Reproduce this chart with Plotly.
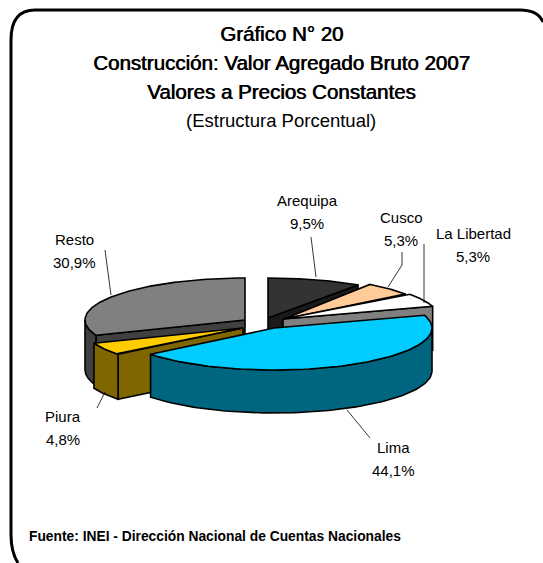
import numpy as np
import plotly.graph_objects as go

categories = ["Arequipa", "Cusco", "La Libertad", "Lima", "Piura", "Resto"]
values = [9.5, 5.3, 5.3, 44.1, 4.8, 30.9]
value_labels = ["9,5%", "5,3%", "5,3%", "44,1%", "4,8%", "30,9%"]
title_lines = ["Gráfico N° 20", "Construcción: Valor Agregado Bruto 2007", "Valores a Precios Constantes"]
subtitle = "(Estructura Porcentual)"
source = "Fuente: INEI - Dirección Nacional de Cuentas Nacionales"

W, H = 543, 563
top_colors = ["#333333", "#ffcc99", "#ffffff", "#00ccff", "#ffcc00", "#808080"]
side_colors = ["#1a1a1a", "#80664d", "#808080", "#006680", "#806600", "#404040"]
# slice apex on screen, horizontal / vertical radius, depth
apex = {"Arequipa": (268, 318), "Cusco": (284, 319), "La Libertad": (283, 319),
        "Lima": (274, 328), "Piura": (243, 328), "Resto": (245, 320)}
radii = {"Arequipa": (160, 40), "Cusco": (151, 42), "La Libertad": (157, 42),
         "Lima": (158, 42), "Piura": (160, 42), "Resto": (160, 42)}
depths = {"Arequipa": 42, "Cusco": 42, "La Libertad": 44, "Lima": 43, "Piura": 45, "Resto": 50}
draw_order = ["Arequipa", "Cusco", "La Libertad", "Resto", "Piura", "Lima"]

label_pos = {"Arequipa": (307, 212), "Cusco": (401, 229), "La Libertad": (473, 245),
             "Lima": (393, 459), "Piura": (63, 428), "Resto": (74, 251)}
leaders = [[(311, 237), (316, 277)], [(402, 252), (402, 265), (388, 287)], [(424, 244), (424, 303)],
           [(347, 410), (370, 438)], [(97, 408), (105, 392)], [(105, 250), (111, 295)]]

total = sum(values)
edges = np.concatenate([[0], np.cumsum(values)]) / total * 2 * np.pi
fig = go.Figure()


def poly(xs, ys, fill):
    fig.add_trace(go.Scatter(x=xs, y=ys, mode="lines", fill="toself", fillcolor=fill,
                             line=dict(color="black", width=1.6), hoverinfo="skip", showlegend=False))


for name in draw_order:
    i = categories.index(name)
    a0, a1 = edges[i], edges[i + 1]
    cx, cy = apex[name]
    rx, ry = radii[name]
    d = depths[name]
    t = np.linspace(a0, a1, 90)
    ax, ay = cx + rx * np.sin(t), cy - ry * np.cos(t)
    # cut faces turned toward the viewer
    faces = []
    if np.sin(a0) < -1e-6:
        faces.append(a0)
    if np.sin(a1) > 1e-6:
        faces.append(a1)
    for a in faces:
        ex, ey = cx + rx * np.sin(a), cy - ry * np.cos(a)
        poly([cx, ex, ex, cx, cx], [cy, ey, ey + d, cy + d, cy], side_colors[i])
    # outer wall (front half only)
    w0, w1 = max(a0, np.pi / 2), min(a1, 3 * np.pi / 2)
    if w1 > w0:
        tw = np.linspace(w0, w1, 90)
        wx, wy = cx + rx * np.sin(tw), cy - ry * np.cos(tw)
        poly(np.r_[wx, wx[::-1], wx[0]], np.r_[wy, wy[::-1] + d, wy[0]], side_colors[i])
    # top
    poly(np.r_[cx, ax, cx], np.r_[cy, ay, cy], top_colors[i])

for pts in leaders:
    fig.add_trace(go.Scatter(x=[p[0] for p in pts], y=[p[1] for p in pts], mode="lines",
                             line=dict(color="black", width=0.8), hoverinfo="skip", showlegend=False))

LBL = "Liberation Sans"
ann = []
for name, v in zip(categories, value_labels):
    x, y = label_pos[name]
    for off, txt in ((-11.5, name), (11.5, v)):
        ann.append(dict(x=x, y=y + off, text=txt, showarrow=False, align="center",
                        font=dict(family=LBL, size=15, color="black")))
for y, line in zip((33, 62, 91), title_lines):
    ann.append(dict(x=281, y=y, text=line, showarrow=False,
                    font=dict(family=LBL, size=20.5, color="black", shadow="0.7px 0 0 black")))
ann.append(dict(x=281, y=120, text=subtitle, showarrow=False,
                font=dict(family=LBL, size=18.5, color="black")))
ann.append(dict(x=27, y=536, text=source, showarrow=False, xanchor="left",
                font=dict(family=LBL, size=13.8, color="black", weight=700)))

frame = "M 18,563 Q 11,552 11,535 L 11,40 Q 11,10 35,10 L 520,10 Q 538,10 543,22"
fig.update_layout(
    width=W, height=H, margin=dict(l=0, r=0, t=0, b=0),
    paper_bgcolor="white", plot_bgcolor="white", showlegend=False,
    xaxis=dict(range=[0, W], visible=False, fixedrange=True),
    yaxis=dict(range=[H, 0], visible=False, fixedrange=True),
    annotations=ann,
    shapes=[dict(type="path", path=frame, line=dict(color="black", width=3))],
)
fig.write_html("out.html", config={"displayModeBar": False},
               post_script="document.body.style.margin='0';document.body.style.overflow='hidden';")
